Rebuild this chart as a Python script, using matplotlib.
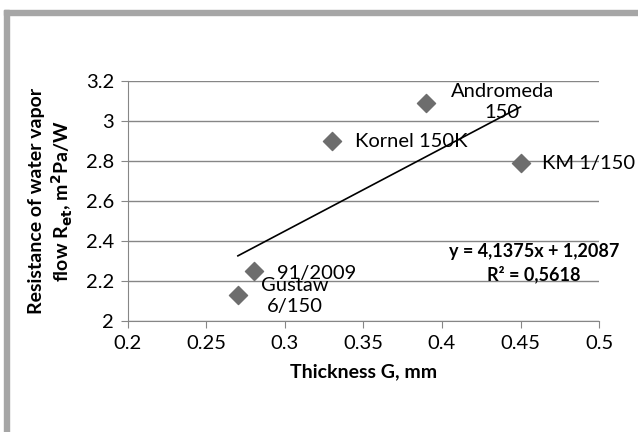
import matplotlib
matplotlib.use("Agg")
import matplotlib.pyplot as plt
from matplotlib.patches import Rectangle

# values
thickness = [0.39, 0.33, 0.45, 0.28, 0.27]
resistance = [3.09, 2.90, 2.79, 2.25, 2.13]
names = ["Andromeda\n150", "Kornel 150K", "KM 1/150", "91/2009", "Gustaw\n6/150"]
slope, intercept = 4.1375, 1.2087
r2 = "0,5618"
xticks = [0.2, 0.25, 0.3, 0.35, 0.4, 0.45, 0.5]
yticks = [2, 2.2, 2.4, 2.6, 2.8, 3, 3.2]

plt.rcParams['font.family'] = ['Lato', 'DejaVu Sans']
W, H = 638, 432
fig = plt.figure(figsize=(W/100, H/100), dpi=100)
ax = fig.add_axes([128/W, 1 - 321/H, (599-128)/W, 240/H])

# grey frame pieces (chart is cropped)
fig.patches.append(Rectangle((4/W, 0), 5/W, 1 - 10/H, transform=fig.transFigure, color='#a6a6a6', zorder=0))
fig.patches.append(Rectangle((4/W, 1 - 15/H), 1, 5/H, transform=fig.transFigure, color='#a6a6a6', zorder=0))

ax.scatter(thickness, resistance, marker='D', s=85, color='#6d6d6d', zorder=3, clip_on=False)
x0, x1 = min(thickness), max(thickness)
ax.plot([x0, x1], [slope*x0 + intercept, slope*x1 + intercept], color='black', lw=1.2, zorder=2)

# label offsets in pixels from the marker
label_pos = [(76, 1, 'center'), (23, 0, 'left'), (21, 0, 'left'), (23, -2, 'left'), (57, -1, 'center')]
for x, y, n, (dx, dy, ha) in zip(thickness, resistance, names, label_pos):
    ax.annotate(n, (x, y), xytext=(dx, dy), textcoords='offset pixels', fontsize=14.5,
                ha=ha, va='center', multialignment='center', linespacing=1.3, zorder=4)

ax.text(0.862, 0.242, "y = 4,1375x + 1,2087\nR² = " + r2, transform=ax.transAxes, fontsize=13,
        fontweight='bold', ha='center', va='center', multialignment='center', linespacing=1.35, zorder=4)

ax.set_xlim(0.2, 0.5)
ax.set_ylim(2, 3.2)
ax.set_xticks(xticks)
ax.set_yticks(yticks)
ax.set_xticklabels([f"{v:g}" for v in xticks], fontsize=14.5)
ax.set_yticklabels([f"{v:g}" for v in yticks], fontsize=14.5)
ax.grid(axis='y', color='#868686', lw=1)
ax.set_axisbelow(True)
for s in ['top', 'right']:
    ax.spines[s].set_visible(False)
for s in ['left', 'bottom']:
    ax.spines[s].set_color('#868686')
ax.tick_params(color='#868686', length=5, pad=5)
ax.set_xlabel("Thickness G, mm", fontsize=14, fontweight='bold', labelpad=8)
ax.set_ylabel("Resistance of water vapor\nflow R$_{\\mathbf{et}}$, m$^{\\mathbf{2}}$Pa/W", fontsize=14,
              fontweight='bold', labelpad=8, linespacing=1.25)

fig.savefig("out.png", dpi=100)
